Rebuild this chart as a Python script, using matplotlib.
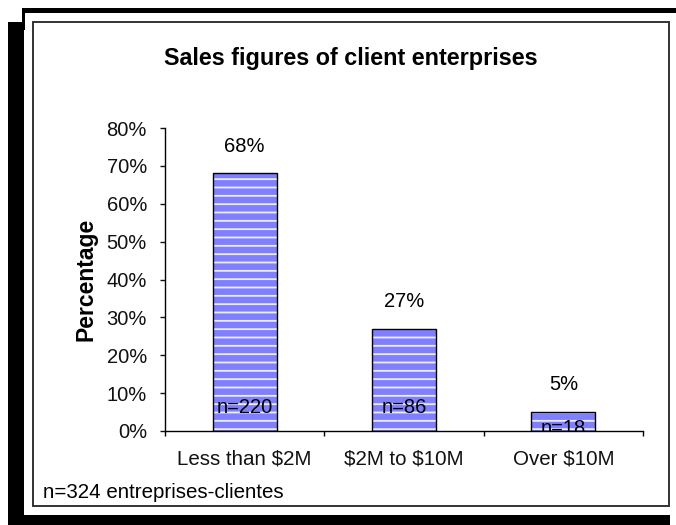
import matplotlib.pyplot as plt
from matplotlib.patches import Rectangle
from matplotlib.ticker import PercentFormatter, FixedLocator

# data
categories = ['Less than $2M', '$2M to $10M', 'Over $10M']
shares = [0.68, 0.27, 0.05]
counts = [220, 86, 18]
ytick_values = [0, 0.1, 0.2, 0.3, 0.4, 0.5, 0.6, 0.7, 0.8]
title = 'Sales figures of client enterprises'
ylabel = 'Percentage'
footnote = 'n=324 entreprises-clientes'

# where the n= labels sit (the last one is pushed down onto the axis)
n_label_y = [0.061, 0.061, 0.006]

W, H = 676, 525
plt.rcParams['font.family'] = ['Liberation Sans', 'DejaVu Sans']
plt.rcParams['hatch.linewidth'] = 1.3
plt.rcParams['text.parse_math'] = False  # dollar signs are plain text here

fig = plt.figure(figsize=(W / 100, H / 100), dpi=100)


def px_box(x0, y0, x1, y1):
    # pixel box (top-left origin) -> figure fraction rect
    return (x0 / W, 1 - y1 / H), (x1 - x0) / W, (y1 - y0) / H


# black "shadow" frame and the thin inner border
for box in [(22, 8, 676, 13), (8, 22, 24, 515), (22, 8, 25, 30), (8, 515, 670, 525)]:
    xy, w, h = px_box(*box)
    fig.add_artist(Rectangle(xy, w, h, transform=fig.transFigure,
                             facecolor='black', edgecolor='none', zorder=0))
xy, w, h = px_box(33, 22, 669, 506)
fig.add_artist(Rectangle(xy, w, h, transform=fig.transFigure, fill=False,
                         edgecolor='#333333', linewidth=1.4, zorder=0))

ax = fig.add_axes([165 / W, 1 - 431 / H, (643 - 165) / W, (431 - 128) / H])
x = list(range(len(categories)))

ax.bar(x, shares, width=0.4, color='#8080ff', edgecolor='none', zorder=2)
ax.bar(x, shares, width=0.4, color='none', edgecolor='#ececff', hatch='--',
       linewidth=0, zorder=3)
ax.bar(x, shares, width=0.4, fill=False, edgecolor='black', linewidth=1, zorder=4)

for i, s in enumerate(shares):
    ax.annotate('{0}%'.format(int(round(s * 100))), (i, s), xytext=(0, 19.5),
                textcoords='offset points', ha='center', va='center', fontsize=14.5)
    ax.text(i, n_label_y[i], 'n={0}'.format(counts[i]), ha='center', va='center',
            fontsize=14.5, clip_on=True, zorder=5)

ax.set_xlim(-0.5, len(categories) - 0.5)
ax.set_ylim(0, 0.8)
ax.set_yticks(ytick_values)
ax.yaxis.set_major_formatter(PercentFormatter(1, decimals=0))
ax.set_xticks(x)
ax.set_xticklabels(categories)
ax.xaxis.set_minor_locator(FixedLocator([i - 0.5 for i in range(len(categories) + 1)]))

ax.tick_params(axis='y', length=3.6, width=1, pad=9.4, labelsize=14.5, colors='#111111')
ax.tick_params(axis='x', which='major', length=0, pad=13, labelsize=14.8, colors='#111111')
ax.tick_params(axis='x', which='minor', length=3.6, width=1)

for side in ['top', 'right']:
    ax.spines[side].set_visible(False)
for side in ['left', 'bottom']:
    ax.spines[side].set_linewidth(1)

ax.set_ylabel(ylabel, fontsize=16.5, fontweight='bold')
ax.yaxis.set_label_coords(-0.142, 0.5)

fig.text(351 / W, 1 - 58 / H, title, fontsize=16.8, fontweight='bold',
         ha='center', va='center')
fig.text(43 / W, 1 - 493 / H, footnote, fontsize=14.8, va='center')

fig.savefig('out.png', dpi=100)
